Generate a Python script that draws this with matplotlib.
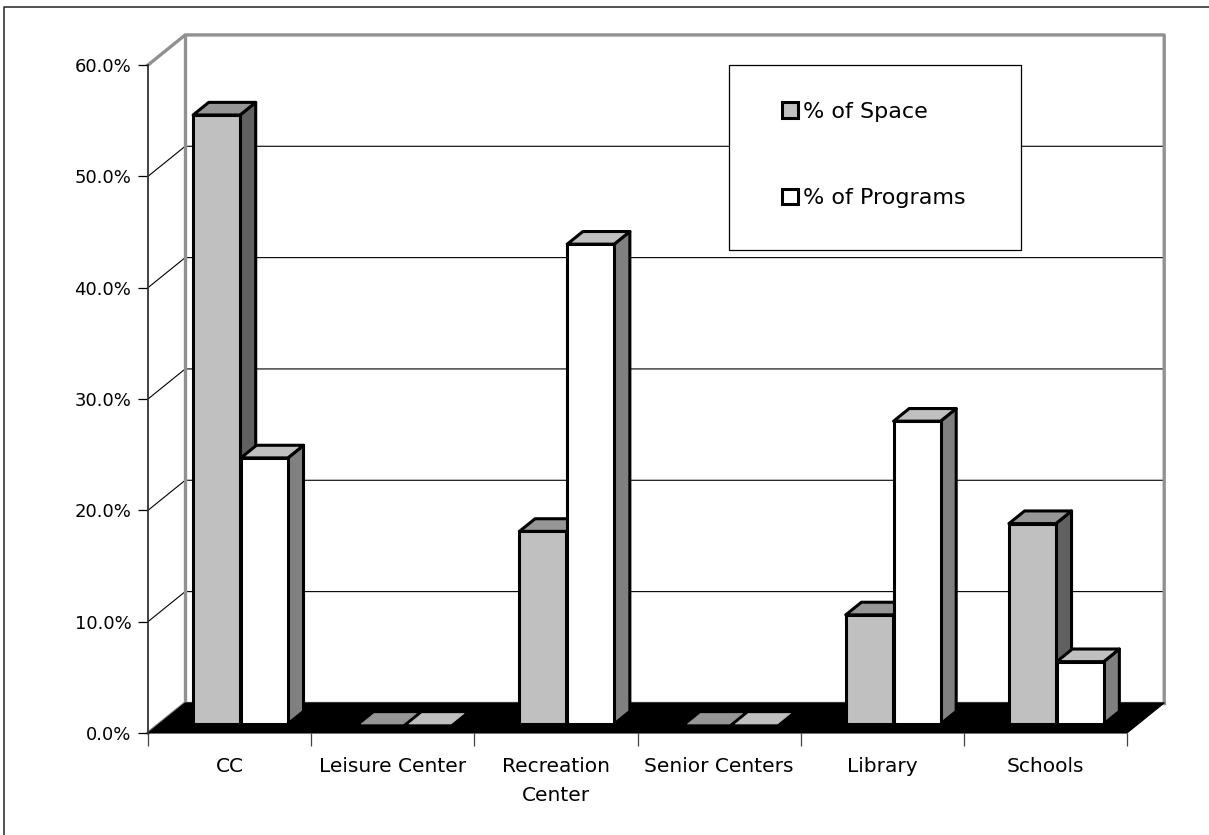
"""Pseudo-3D clustered columns: share of space vs share of programs by facility type."""
import matplotlib
matplotlib.use("Agg")
import matplotlib.pyplot as plt
from matplotlib.lines import Line2D
from matplotlib.patches import Patch, Rectangle

categories = ["CC", "Leisure Center", "Recreation\nCenter", "Senior Centers", "Library", "Schools"]
space_pct = [54.7, 0.0, 17.3, 0.0, 9.8, 18.0]
programs_pct = [23.9, 0.0, 43.1, 0.0, 27.2, 5.6]
y_ticks = [0, 10, 20, 30, 40, 50, 60]
series_names = ["% of Space", "% of Programs"]

# depth of the chart box, in data units (category widths / percent)
DEPTH_X = 0.228
DEPTH_Y = 2.7
BAR_W = 0.288
BAR_START = 0.208
BAR_FRONT = 0.3
BAR_BACK = 0.72
FLAT_BACK = 0.65

WALL_GREY = "#919191"
# front, top, side colours
SPACE_COLS = ("#C0C0C0", "#969696", "#606060")
PROG_COLS = ("#FFFFFF", "#C0C0C0", "#808080")


def proj(x, val, d):
    return x + d * DEPTH_X, val + d * DEPTH_Y


def face(ax, pts, color, lw=2.2, edge="black", zorder=3):
    xs, ys = zip(*pts)
    ax.fill(xs, ys, facecolor=color, edgecolor=edge, linewidth=lw, joinstyle="round",
            clip_on=False, zorder=zorder)


def draw_bar(ax, x0, val, cols):
    x1 = x0 + BAR_W
    f, b = BAR_FRONT, BAR_BACK
    if val == 0:
        # empty category still shows a flat lid on the floor
        x0 += 0.03
        face(ax, [proj(x0, 0, f), proj(x1, 0, f), proj(x1, 0, FLAT_BACK), proj(x0, 0, FLAT_BACK)],
             cols[1], lw=0.5, edge=cols[1])
        return
    face(ax, [proj(x1, 0, f), proj(x1, val, f), proj(x1, val, b), proj(x1, 0, b)], cols[2])
    face(ax, [proj(x0, val, f), proj(x1, val, f), proj(x1, val, b), proj(x0, val, b)], cols[1])
    face(ax, [proj(x0, 0, f), proj(x1, 0, f), proj(x1, val, f), proj(x0, val, f)], cols[0])


plt.rcParams["font.family"] = "DejaVu Sans"
W, H = 1209, 835
fig = plt.figure(figsize=(W / 100, H / 100), dpi=100)
# the frame only shows on the top and left, it runs off the other two sides
fig.add_artist(Line2D([4 / W, 4 / W, 1], [0, 1 - 6.5 / H, 1 - 6.5 / H], transform=fig.transFigure,
                      color="#222222", linewidth=1.1))

ax = fig.add_axes([148 / W, 1 - 733 / H, 979 / W, 668 / H])
n = len(categories)
ax.set_xlim(0, n)
ax.set_ylim(0, y_ticks[-1])

# walls and gridlines
for t in y_ticks[1:-1]:
    ax.plot([0, DEPTH_X, n + DEPTH_X], [t, t + DEPTH_Y, t + DEPTH_Y], color="black", lw=0.8,
            clip_on=False, zorder=1)
top = y_ticks[-1]
ax.plot([0, DEPTH_X, n + DEPTH_X, n + DEPTH_X], [top, top + DEPTH_Y, top + DEPTH_Y, DEPTH_Y],
        color=WALL_GREY, lw=2.4, clip_on=False, zorder=1)
ax.plot([DEPTH_X, DEPTH_X], [DEPTH_Y, top + DEPTH_Y], color=WALL_GREY, lw=2.4, clip_on=False, zorder=1)
ax.plot([DEPTH_X, n + DEPTH_X], [DEPTH_Y, DEPTH_Y], color=WALL_GREY, lw=2.4, clip_on=False, zorder=1)
ax.plot([0, DEPTH_X], [0, DEPTH_Y], color=WALL_GREY, lw=2.4, clip_on=False, zorder=1)

# floor
face(ax, [(0, 0), (n, 0), (n + DEPTH_X, DEPTH_Y), (DEPTH_X, DEPTH_Y)], "black", lw=0.8, zorder=2)

for i in range(n):
    draw_bar(ax, i + BAR_START, space_pct[i], SPACE_COLS)
    draw_bar(ax, i + BAR_START + BAR_W + 0.005, programs_pct[i], PROG_COLS)

# axes
for name in ["top", "right", "bottom"]:
    ax.spines[name].set_visible(False)
ax.spines["left"].set_color("#333333")
ax.spines["left"].set_linewidth(1.3)
ax.patch.set_visible(False)
ax.set_yticks(y_ticks)
ax.set_yticklabels([f"{t:.1f}%" for t in y_ticks], fontsize=13)
ax.tick_params(axis="y", length=7, width=0.9, pad=5, color="black")
ax.set_xticks(range(n + 1))
ax.set_xticklabels([])
ax.tick_params(axis="x", length=9, width=0.9, color="#444444")
ax.set_xticks([i + 0.5 for i in range(n)], minor=True)
ax.set_xticklabels(categories, minor=True, fontsize=14.5, linespacing=1.68)
ax.tick_params(axis="x", which="minor", length=0, pad=17)

# legend box sits over the gridlines
fig.add_artist(Rectangle((729 / W, 1 - 250 / H), 292 / W, 185 / H, transform=fig.transFigure,
                         facecolor="white", edgecolor="black", linewidth=0.9, zorder=5))
handles = [
    Patch(facecolor=SPACE_COLS[0], edgecolor="black", linewidth=2.2),
    Patch(facecolor=PROG_COLS[0], edgecolor="black", linewidth=2.2),
]
leg = fig.legend(handles, series_names, loc="center", bbox_to_anchor=(874 / W, 1 - 155 / H),
                 frameon=False, fontsize=16, handlelength=0.7, handleheight=0.7,
                 handletextpad=0.25, labelspacing=3.0, borderpad=0)
leg.set_zorder(6)

fig.savefig("out.png", dpi=100)
